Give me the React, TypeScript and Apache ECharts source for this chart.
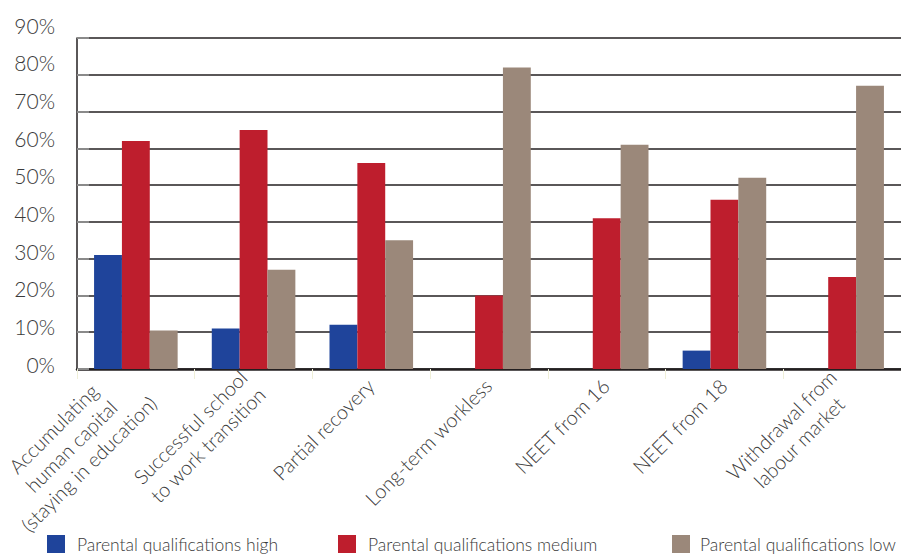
import React, { useEffect, useRef } from "react";
import * as echarts from "echarts";

// Outcome categories along the x axis
const categories: string[] = [
  "Accumulating\nhuman capital\n(staying in education)",
  "Successful school\nto work transition",
  "Partial recovery",
  "Long-term workless",
  "NEET from 16",
  "NEET from 18",
  "Withdrawal from\nlabour market",
];

const seriesNames: string[] = [
  "Parental qualifications high",
  "Parental qualifications medium",
  "Parental qualifications low",
];

// Percentages per category
const highValues: number[] = [31, 11, 12, 0, 0, 5, 0];
const mediumValues: number[] = [62, 65, 56, 20, 41, 46, 25];
const lowValues: number[] = [10.5, 27, 35, 82, 61, 52, 77];

const yMin = 0;
const yMax = 90;
const yStep = 10;

const colors = ["#1f449b", "#be1e2d", "#9b887a"];
const textColor = "#3a3a3a";
const fontFamily = "Lato, 'Open Sans', 'DejaVu Sans', sans-serif";
const catFontSize = 20;

function measure(text: string, size: number): number {
  const c = document.createElement("canvas").getContext("2d");
  if (!c) return text.length * size * 0.5;
  c.font = `300 ${size}px ${fontFamily}`;
  return c.measureText(text).width;
}

export default function App() {
  const ref = useRef<HTMLDivElement>(null);

  useEffect(() => {
    if (!ref.current) return;
    const chart = echarts.init(ref.current, null, { renderer: "svg" });

    // one rich style per category so that multi-line labels are centred line by line
    const rich: Record<string, any> = {};
    categories.forEach((cat, i) => {
      const w = Math.max(...cat.split("\n").map((l) => measure(l, catFontSize)));
      rich["c" + i] = {
        width: Math.ceil(w) + 2,
        align: "center",
        fontSize: catFontSize,
        fontFamily,
        fontWeight: 300,
        color: textColor,
        lineHeight: 25,
      };
    });

    const barSeries = [highValues, mediumValues, lowValues].map((data, i) => ({
      name: seriesNames[i],
      type: "bar" as const,
      data,
      xAxisIndex: 0,
      yAxisIndex: 0,
      barGap: "0%",
      barCategoryGap: "29%",
      itemStyle: { color: colors[i] },
    }));

    const legendLefts = [47, 338, 672];

    chart.setOption({
      animation: false,
      color: colors,
      textStyle: { fontFamily },
      grid: [
        { left: 77, right: 0, top: 38, bottom: 185, containLabel: false, outerBoundsMode: "none" },
        // grid carrying the percentage labels only
        { left: 77, width: 10, top: 25, bottom: 190, containLabel: false, outerBoundsMode: "none" },
      ],
      legend: seriesNames.map((name, i) => ({
        data: [name],
        left: legendLefts[i],
        top: 535,
        icon: "rect",
        itemWidth: 18,
        itemHeight: 18,
        padding: 0,
        textStyle: {
          fontSize: 17.5,
          fontFamily,
          fontWeight: 300,
          color: textColor,
          padding: [0, 0, 0, i === 2 ? 5 : 7],
        },
        selectedMode: false,
      })),
      xAxis: [
        {
          type: "category",
          gridIndex: 0,
          data: categories,
          axisLine: { show: true, lineStyle: { color: "#231f20", width: 2.5 } },
          axisTick: {
            show: true,
            alignWithLabel: false,
            length: 10,
            lineStyle: { color: "#efefd8", width: 1 },
          },
          axisLabel: {
            rotate: 45,
            margin: 12,
            interval: 0,
            formatter: (val: string, idx: number) =>
              val
                .split("\n")
                .map((l) => `{c${idx}|${l}}`)
                .join("\n"),
            rich,
          },
          splitLine: { show: false },
        },
        { type: "value", gridIndex: 1, show: false },
      ],
      yAxis: [
        {
          type: "value",
          gridIndex: 0,
          min: yMin,
          max: yMax,
          interval: yStep,
          axisLine: { show: true, lineStyle: { color: "#231f20", width: 1.5 } },
          axisTick: {
            show: true,
            inside: true,
            length: 12,
            lineStyle: { color: "#8a8a8a", width: 2 },
          },
          axisLabel: { show: false },
          splitLine: { show: true, lineStyle: { color: "#231f20", width: 1.5 } },
        },
        {
          type: "value",
          gridIndex: 1,
          min: yMin,
          max: yMax,
          interval: yStep,
          axisLine: { show: false },
          axisTick: { show: false },
          splitLine: { show: false },
          axisLabel: {
            show: true,
            margin: 22,
            formatter: "{value}%",
            fontSize: 21,
            fontFamily,
            fontWeight: 300,
            color: textColor,
          },
        },
      ],
      series: barSeries,
    });

    return () => chart.dispose();
  }, []);

  return (
    <div
      ref={ref}
      style={{ position: "fixed", left: 0, top: 0, width: 901, height: 554, background: "#fff" }}
    />
  );
}
